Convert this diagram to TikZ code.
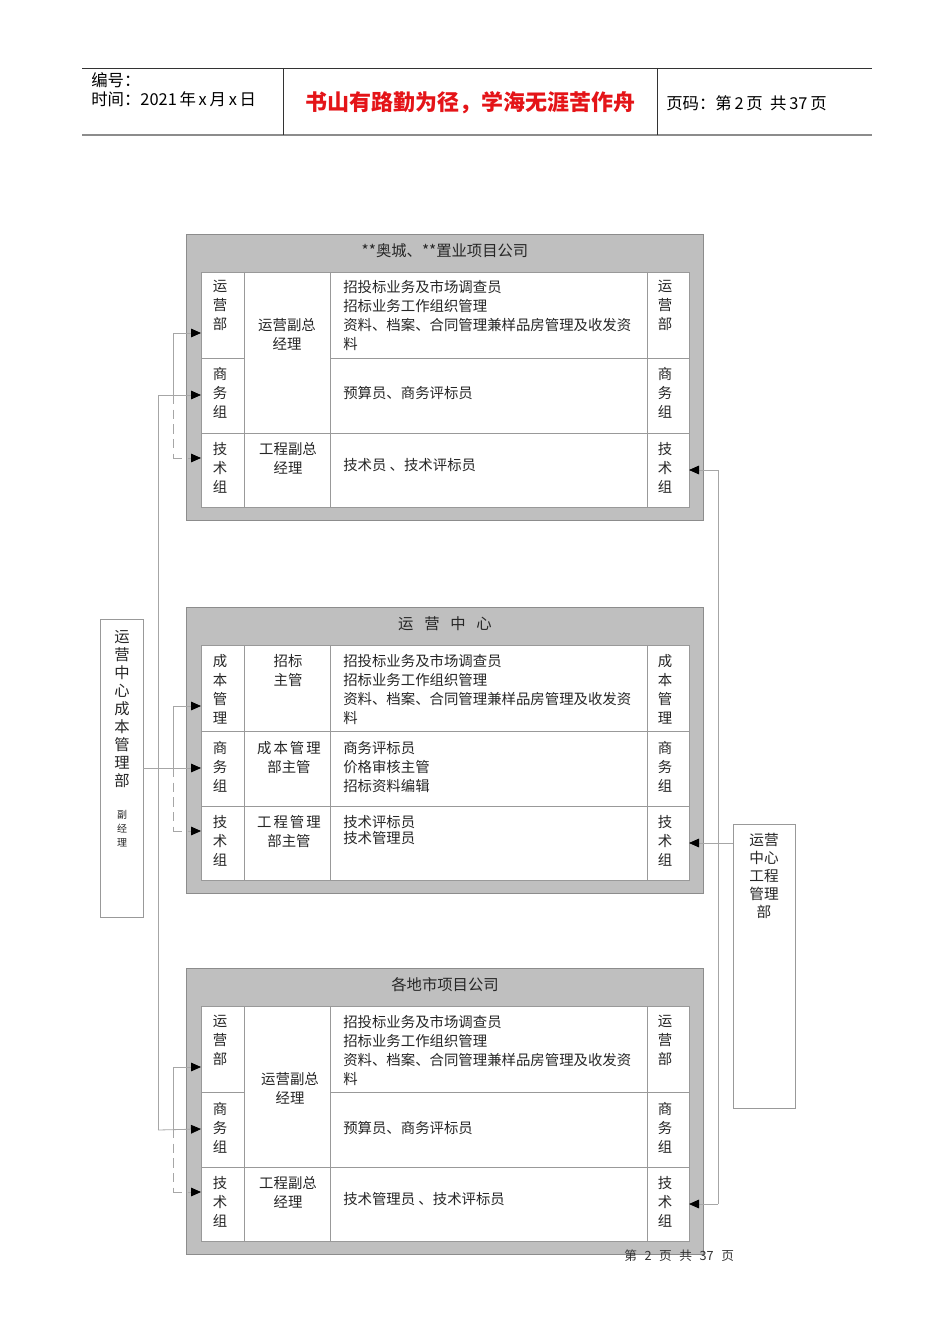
\documentclass[tikz,border=0pt]{standalone}
\usepackage{fontspec}
\setmainfont{Noto Sans CJK SC}
\usetikzlibrary{arrows.meta}

\definecolor{mottored}{RGB}{228,20,24}
\newcommand{\tabfont}{\fontsize{10.8}{14.25}\selectfont}
\newcommand{\hdrfont}{\fontsize{12.3}{14}\selectfont}

\tikzset{
	frame/.style={draw=black!45, fill=black!25},
	grid/.style={draw=black!40, line width=0.6pt},
	link/.style={draw=black!35, line width=0.6pt},
	arr/.style={-{Triangle[length=7.5pt,width=6.5pt,color=black]}},
	gap/.style={dash pattern=on 7pt off 4pt},
	vcell/.style={anchor=north, inner sep=0pt, align=center, font=\tabfont, text=black!85},
	tcell/.style={anchor=north west, inner sep=0pt, align=left, font=\tabfont, text=black!85},
	title/.style={inner sep=0pt, font=\fontsize{11.5}{14}\selectfont, text=black!85},
	deptbox/.style={draw=black!40, line width=0.6pt, inner sep=0pt},
}

\begin{document}
\begin{tikzpicture}[x=0.75pt,y=-0.75pt]
	\useasboundingbox (0,0) rectangle (950,1344);

	% page header
	\draw[black!80, line width=0.6pt] (82,68) -- (872,68);
	\draw[black!45, line width=1.4pt] (82,135) -- (872,135);
	\draw[black!80, line width=0.6pt] (283,68) -- (283,135) (657,68) -- (657,135);
	\node[anchor=west, inner sep=0pt, font=\hdrfont] (serial) at (91,80) {编号：};
	\node[anchor=west, inner sep=0pt, font=\hdrfont] (date) at (91,99) {时间：2021\,年\,x\,月\,x\,日};
	\node[inner sep=0pt, font=\fontsize{16.5}{18}\selectfont\bfseries, text=mottored] (motto) at (470,103) {书山有路勤为径，学海无涯苦作舟};
	\node[anchor=west, inner sep=0pt, font=\hdrfont] (pageno) at (666,103) {页码：第\,2\,页\ \ 共\,37\,页};

	% the three company boxes
	\foreach \o/\k in {0/1,373/2,734/3}{
		\begin{scope}[shift={(0,\o)}]
			\draw[frame] (186,234) rectangle (703,520);
			\filldraw[fill=white, grid] (201,272) rectangle (689,507);
			\draw[grid] (244,272) -- (244,507) (330,272) -- (330,507) (647,272) -- (647,507);
			\draw[grid] (201,358) -- (244,358) (330,358) -- (689,358) (201,433) -- (689,433);
			\coordinate (in1-\k) at (201,333);
			\coordinate (in2-\k) at (201,395);
			\coordinate (in3-\k) at (201,458);
			\coordinate (br1-\k) at (173,333);
			\coordinate (br2-\k) at (173,395);
			\coordinate (br3-\k) at (173,458);
			\coordinate (out-\k) at (689,470);
		\end{scope}
	}
	\draw[grid] (244,731) -- (330,731);

	% **奥城、**置业项目公司
	\node[title] (top) at (445,251) {**奥城、**置业项目公司};
	\node[vcell] (ops1) at (220,280) {运\\营\\部};
	\node[vcell] (biz1) at (220,367) {商\\务\\组};
	\node[vcell] (tech1) at (220,442) {技\\术\\组};
	\node[vcell] (vp1) at (287,318) {运营副总\\经理};
	\node[vcell] (eng1) at (288,442) {工程副总\\经理};
	\node[tcell] (jobs1a) at (343,280) {招投标业务及市场调查员\\招标业务工作组织管理\\资料、档案、合同管理兼样品房管理及收发资\\料};
	\node[tcell] (jobs1b) at (343,386) {预算员、商务评标员};
	\node[tcell] (jobs1c) at (343,458) {技术员 、技术评标员};
	\node[vcell] (ops1r) at (665,280) {运\\营\\部};
	\node[vcell] (biz1r) at (665,367) {商\\务\\组};
	\node[vcell] (tech1r) at (665,442) {技\\术\\组};

	% 运营中心
	\node[title] (center) at (445,624) {运\hspace{0.7em}营\hspace{0.7em}中\hspace{0.7em}心};
	\node[vcell] (cost2) at (220,654) {成\\本\\管\\理};
	\node[vcell] (biz2) at (220,741) {商\\务\\组};
	\node[vcell] (tech2) at (220,815) {技\\术\\组};
	\node[vcell] (bid2) at (288,654) {招标\\主管};
	\node[vcell] (costhead2) at (289,741) {成\hspace{1.5pt}本\hspace{1.5pt}管\hspace{1.5pt}理\\部主管};
	\node[vcell] (enghead2) at (289,815) {工\hspace{1.5pt}程\hspace{1.5pt}管\hspace{1.5pt}理\\部主管};
	\node[tcell] (jobs2a) at (343,654) {招投标业务及市场调查员\\招标业务工作组织管理\\资料、档案、合同管理兼样品房管理及收发资\\料};
	\node[tcell] (jobs2b) at (343,741) {商务评标员\\价格审核主管\\招标资料编辑};
	\node[tcell, font=\fontsize{10.8}{12}\selectfont] (jobs2c) at (343,815) {技术评标员\\技术管理员};
	\node[vcell] (cost2r) at (665,654) {成\\本\\管\\理};
	\node[vcell] (biz2r) at (665,741) {商\\务\\组};
	\node[vcell] (tech2r) at (665,815) {技\\术\\组};

	% 各地市项目公司
	\node[title] (local) at (445,985) {各地市项目公司};
	\node[vcell] (ops3) at (220,1015) {运\\营\\部};
	\node[vcell] (biz3) at (220,1102) {商\\务\\组};
	\node[vcell] (tech3) at (220,1176) {技\\术\\组};
	\node[vcell] (vp3) at (290,1072) {运营副总\\经理};
	\node[vcell] (eng3) at (288,1176) {工程副总\\经理};
	\node[tcell] (jobs3a) at (343,1015) {招投标业务及市场调查员\\招标业务工作组织管理\\资料、档案、合同管理兼样品房管理及收发资\\料};
	\node[tcell] (jobs3b) at (343,1121) {预算员、商务评标员};
	\node[tcell] (jobs3c) at (343,1192) {技术管理员 、技术评标员};
	\node[vcell] (ops3r) at (665,1015) {运\\营\\部};
	\node[vcell] (biz3r) at (665,1102) {商\\务\\组};
	\node[vcell] (tech3r) at (665,1176) {技\\术\\组};

	% side departments
	\node[deptbox, minimum width=32.25pt, minimum height=223.5pt] (costdept) at (121.5,768) {};
	\node[vcell, font=\fontsize{11.5}{13.5}\selectfont] (costname) at (122,630) {运\\营\\中\\心\\成\\本\\管\\理\\部};
	\node[vcell, font=\fontsize{7.5}{10.5}\selectfont] (costvp) at (122,810) {副\\经\\理};
	\node[deptbox, minimum width=46.5pt, minimum height=213pt] (engdept) at (764,966) {};
	\node[vcell, font=\fontsize{11}{13.5}\selectfont] (engname) at (764,833) {运营\\中心\\工程\\管理\\部};

	% connectors
	\coordinate (spineA) at (158,395);
	\coordinate (spineB) at (158,1130);
	\draw[link] (spineA) -- (spineB);
	\draw[link,arr] (spineA) -- (in2-1);
	\draw[link,arr] (spineB) -- (in2-3);
	\draw[link,arr] (costdept.east) -- (in2-2);
	\foreach \k in {1,2,3}{
		\draw[link,arr] (br1-\k) -- (in1-\k);
		\draw[link] (br1-\k) -- (br2-\k);
		\draw[link,gap] (br2-\k) -- (br3-\k);
		\draw[link,gap,arr] (br3-\k) -- (in3-\k);
	}
	\coordinate (riserA) at (718,470);
	\coordinate (riserB) at (718,1204);
	\draw[link] (riserA) -- (riserB);
	\draw[link,arr] (riserA) -- (out-1);
	\draw[link,arr] (riserB) -- (out-3);
	\draw[link,arr] (engdept.west |- out-2) -- (out-2);

	% footer
	\node[anchor=west, inner sep=0pt, font=\fontsize{9.5}{11}\selectfont, text=black!80] (footer) at (624,1256) {第\hspace{0.6em}2\hspace{0.6em}页\hspace{0.6em}共\hspace{0.6em}37\hspace{0.6em}页};
\end{tikzpicture}
\end{document}
